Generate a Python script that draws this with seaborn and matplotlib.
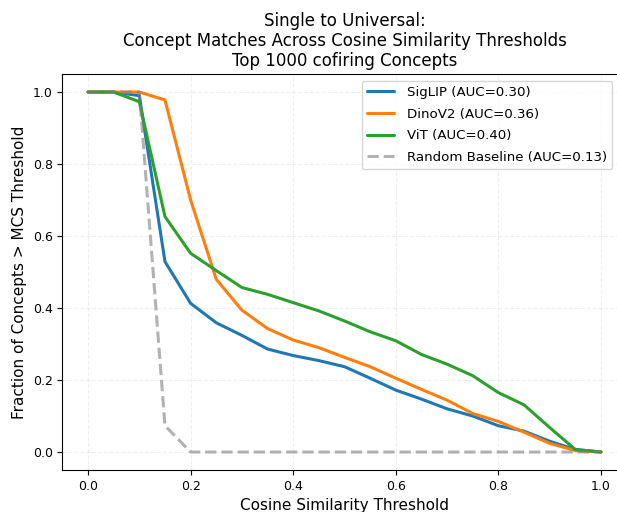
import matplotlib
matplotlib.use("Agg")
import matplotlib.pyplot as plt
import seaborn as sns

# Cosine similarity thresholds (x axis)
thresholds = [0.0, 0.05, 0.1, 0.15, 0.2, 0.25, 0.3, 0.35, 0.4, 0.45, 0.5,
              0.55, 0.6, 0.65, 0.7, 0.75, 0.8, 0.85, 0.9, 0.95, 1.0]

# Fraction of concepts above threshold
siglip = [1.0, 1.0, 0.99, 0.529, 0.413, 0.359, 0.324, 0.286, 0.268, 0.254, 0.237,
          0.205, 0.172, 0.147, 0.12, 0.10, 0.073, 0.058, 0.03, 0.007, 0.0]
dinov2 = [1.0, 1.0, 1.0, 0.978, 0.70, 0.48, 0.394, 0.343, 0.311, 0.29, 0.263,
          0.237, 0.205, 0.174, 0.144, 0.107, 0.085, 0.055, 0.024, 0.004, 0.0]
vit = [1.0, 1.0, 0.973, 0.654, 0.552, 0.504, 0.457, 0.438, 0.415, 0.392, 0.364,
       0.334, 0.309, 0.271, 0.244, 0.212, 0.165, 0.131, 0.068, 0.007, 0.0]
random_baseline = [1.0, 1.0, 1.0, 0.073, 0.0, 0.0, 0.0, 0.0, 0.0, 0.0, 0.0,
                   0.0, 0.0, 0.0, 0.0, 0.0, 0.0, 0.0, 0.0, 0.0, 0.0]

labels = ["SigLIP (AUC=0.30)", "DinoV2 (AUC=0.36)", "ViT (AUC=0.40)"]
colors = ["#1f77b4", "#ff7f0e", "#2ca02c"]

sns.set_style("ticks", {"axes.edgecolor": "black", "xtick.color": "black",
                        "ytick.color": "black", "text.color": "black",
                        "axes.labelcolor": "black"})
plt.rcParams["font.family"] = ["DejaVu Sans"]

fig = plt.figure(figsize=(6.17, 5.12), dpi=100)
ax = fig.add_axes([0.1011, 0.082, 0.9145, 0.7734])

for series, label, color in zip([siglip, dinov2, vit], labels, colors):
    sns.lineplot(x=thresholds, y=series, ax=ax, color=color, linewidth=2.2, label=label)

sns.lineplot(x=thresholds, y=random_baseline, ax=ax, color="gray", alpha=0.6,
             linewidth=2.2, linestyle="--", label="Random Baseline (AUC=0.13)")

ax.grid(True, linestyle="--", alpha=0.3)
ax.set_xticks([0.0, 0.2, 0.4, 0.6, 0.8, 1.0])
ax.set_yticks([0.0, 0.2, 0.4, 0.6, 0.8, 1.0])
ax.tick_params(labelsize=9)
ax.set_xlabel("Cosine Similarity Threshold", fontsize=11)
ax.set_ylabel("Fraction of Concepts > MCS Threshold", fontsize=11)
ax.set_title("Single to Universal:\nConcept Matches Across Cosine Similarity Thresholds\nTop 1000 cofiring Concepts",
             fontsize=12, linespacing=1.12)
ax.legend(loc="upper right", fontsize=9.6, bbox_to_anchor=(0.9865, 1.0),
          labelspacing=0.65, handletextpad=1.0, handlelength=2.0)

fig.savefig("out.png", dpi=100)
